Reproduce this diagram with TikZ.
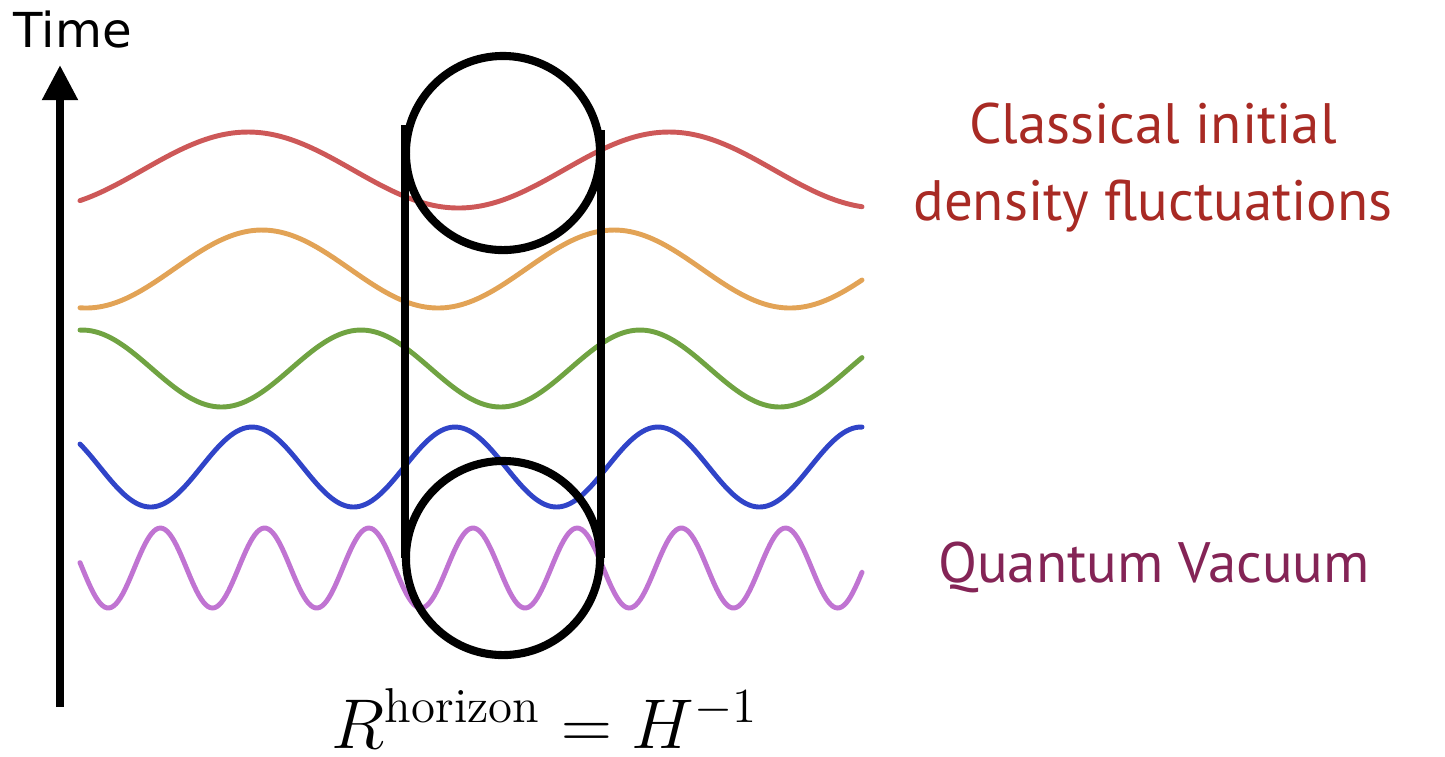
\documentclass[tikz,border=0pt]{standalone}
\usepackage{fontspec}
\usepackage{tikz}
\usetikzlibrary{arrows.meta}
\newfontfamily\labelfont{PT Sans}
\newfontfamily\timefont{DejaVu Sans}
\definecolor{wavered}{RGB}{205,88,88}
\definecolor{waveorange}{RGB}{226,163,86}
\definecolor{wavegreen}{RGB}{112,163,66}
\definecolor{waveblue}{RGB}{48,68,200}
\definecolor{wavepurple}{RGB}{192,116,210}
\definecolor{classicred}{RGB}{168,42,36}
\definecolor{quantumpurple}{RGB}{132,36,86}
\tikzset{
    wave/.style = {line width=1.4pt, line cap=round},
    horizon line/.style = {draw, line width=2.3pt},
    horizon circle/.style = {horizon line, circle, inner sep=0pt, minimum size=1.94cm},
    label text/.style = {font=\labelfont\fontsize{16.2}{19}\selectfont, inner sep=0pt, anchor=base},
}

\begin{document}
\begin{tikzpicture}[x=0.01cm, y=-0.01cm]
                \useasboundingbox (0,0) rectangle (1445,756);

                % modes, from long to short wavelength
                \draw[wave, wavered] plot[domain=80:862, samples=200] (\x, {170 - 38*cos((\x-248)/421*360)});
                \draw[wave, waveorange] plot[domain=80:862, samples=200] (\x, {269 + 39*cos((\x-438)/352*360)});
                \draw[wave, wavegreen] plot[domain=80:862, samples=200] (\x, {368.5 - 38.5*cos((\x-361)/279*360)});
                \draw[wave, waveblue] plot[domain=80:862, samples=250] (\x, {467 - 40*cos((\x-455)/203*360)});
                \draw[wave, wavepurple] plot[domain=80:862, samples=350] (\x, {568 - 40*cos((\x-473)/104.2*360)});

                \coordinate (tbot) at (60,707);
                \coordinate (ttop) at (60,65);
                \draw[line width=2.3pt, -{Triangle[width=9.7pt, length=10pt]}] (tbot) -- (ttop);
                \node[anchor=base west, inner sep=0pt, font=\timefont\fontsize{13.7}{16}\selectfont] (time) at (13,47) {Time};

                \node[horizon circle] (top) at (503,153) {};
                \node[horizon circle] (bot) at (503,558) {};
                \coordinate (lt) at (405,125);
                \coordinate (rt) at (601,130);
                \draw[horizon line] (lt) -- (lt |- bot.center);
                \draw[horizon line] (rt) -- (rt |- bot.center);

                \node[label text, classicred] (classic) at (1153,143) {Classical initial};
                \node[label text, classicred] (fluct) at (1153,220) {density fluctuations};
                \node[label text, quantumpurple] (vacuum) at (1154,582) {Quantum Vacuum};

                \node[anchor=base, inner sep=0pt, scale=1.16, font=\LARGE] (radius) at (545,748) {$R^{\mathrm{horizon}} = H^{-1}$};
            \end{tikzpicture}
\end{document}
